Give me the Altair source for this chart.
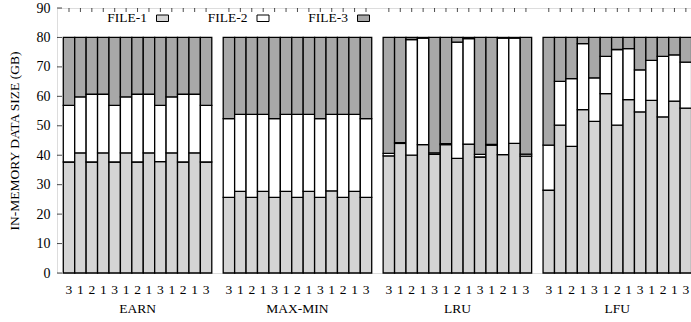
import altair as alt
import pandas as pd

groups = ["EARN", "MAX-MIN", "LRU", "LFU"]
bar_labels = ["3", "1", "2", "1", "3", "1", "2", "1", "3", "1", "2", "1", "3"]
series = ["FILE-1", "FILE-2", "FILE-3"]
series_colors = ["#d4d4d4", "#ffffff", "#a8a8a8"]
y_tick_values = [0, 10, 20, 30, 40, 50, 60, 70, 80, 90]

# amounts (GB) per bar
file1 = {
    "EARN":    [37.7, 40.8, 37.7, 40.8, 37.7, 40.8, 37.7, 40.8, 37.8, 40.8, 37.7, 40.8, 37.7],
    "MAX-MIN": [25.7, 27.7, 25.7, 27.7, 25.7, 27.7, 25.7, 27.7, 25.7, 27.9, 25.7, 27.7, 25.7],
    "LRU":     [39.8, 44.0, 40.0, 43.6, 40.3, 43.6, 38.9, 43.8, 39.4, 43.4, 40.2, 44.0, 39.7],
    "LFU":     [28.1, 50.2, 43.0, 55.5, 51.5, 60.9, 50.2, 58.9, 54.7, 58.6, 53.0, 58.4, 56.0],
}
file2 = {
    "EARN":    [19.2, 19.0, 23.0, 19.9, 19.2, 19.0, 23.0, 19.9, 19.1, 19.0, 23.0, 19.9, 19.2],
    "MAX-MIN": [26.7, 26.2, 28.2, 26.2, 26.7, 26.2, 28.2, 26.2, 26.7, 26.0, 28.2, 26.2, 26.7],
    "LRU":     [0.8, 0.3, 39.3, 36.2, 0.5, 0.3, 39.5, 35.8, 0.9, 0.3, 39.6, 35.8, 0.7],
    "LFU":     [15.3, 14.9, 23.0, 22.4, 14.8, 12.7, 25.7, 17.3, 14.3, 13.6, 20.6, 15.7, 15.6],
}
file3 = {
    "EARN":    [23.1, 20.2, 19.3, 19.3, 23.1, 20.2, 19.3, 19.3, 23.1, 20.2, 19.3, 19.3, 23.1],
    "MAX-MIN": [27.6, 26.1, 26.1, 26.1, 27.6, 26.1, 26.1, 26.1, 27.6, 26.1, 26.1, 26.1, 27.6],
    "LRU":     [39.4, 35.7, 0.7, 0.2, 39.2, 36.1, 1.6, 0.4, 39.7, 36.3, 0.2, 0.2, 39.6],
    "LFU":     [36.6, 14.9, 14.0, 2.1, 13.7, 6.4, 4.1, 3.8, 11.0, 7.8, 6.4, 5.9, 8.4],
}

SLOTS = 14  # 13 bars + one empty slot between groups

rows, lab_rows, grp_rows = [], [], []
for g, name in enumerate(groups):
    for i in range(len(bar_labels)):
        pos = g * SLOTS + i
        base = 0.0
        for s, src in zip(series, [file1, file2, file3]):
            v = src[name][i]
            rows.append({"pos": pos, "lo": pos - 0.5, "hi": pos + 0.5,
                         "series": s, "y0": base, "y1": base + v})
            base += v
        lab_rows.append({"pos": pos, "label": bar_labels[i]})
    grp_rows.append({"pos": g * SLOTS + (len(bar_labels) - 1) / 2, "group": name})

df = pd.DataFrame(rows)
labels_df = pd.DataFrame(lab_rows)
groups_df = pd.DataFrame(grp_rows)
yticks_df = pd.DataFrame({"v": y_tick_values})
legend_df = pd.DataFrame({"series": series, "k": [0, 1, 2]})

FONT = "Liberation Serif, Times New Roman, serif"
xscale = alt.Scale(domain=[-1.05, 54.45], nice=False, zero=False)
yscale = alt.Scale(domain=[0, 90], nice=False)
color = alt.Color("series:N", scale=alt.Scale(domain=series, range=series_colors), legend=None)

yaxis = alt.Axis(values=y_tick_values, ticks=False, grid=False,
                 domain=False, labelOverlap=False, labelBound=False,
                 labelPadding=7, labelFont=FONT,
                 labelFontSize=14, labelColor="black",
                 title="IN-MEMORY DATA SIZE (GB)", titleFont=FONT,
                 titleFontSize=13.5, titleFontWeight="normal", titleColor="black",
                 titleAngle=270, titleBaseline="middle", titleAlign="center",
                 titleX=-43, titleY=132.5)

bars = alt.Chart(df).mark_bar(stroke="black", strokeWidth=1.3, opacity=1).encode(
    x=alt.X("lo:Q", scale=xscale, axis=None),
    x2="hi:Q",
    y=alt.Y("y0:Q", scale=yscale, axis=yaxis),
    y2="y1:Q",
    color=color,
)

ytick_marks = alt.Chart(yticks_df).mark_tick(color="black", thickness=1, size=5,
                                             orient="horizontal").encode(
    y=alt.Y("v:Q", scale=yscale, axis=yaxis),
    x=alt.value(2.5),
)

top_ticks = alt.Chart(labels_df).mark_tick(color="black", thickness=1, size=4,
                                          orient="vertical").encode(
    x=alt.X("pos:Q", scale=xscale, axis=None),
    y=alt.value(2),
)

bar_text = alt.Chart(labels_df).mark_text(font=FONT, fontSize=13.5, color="black",
                                          baseline="middle").encode(
    x=alt.X("pos:Q", scale=xscale, axis=None),
    y=alt.value(281.5),
    text="label:N",
)

group_text = alt.Chart(groups_df).mark_text(font=FONT, fontSize=13.5, color="black",
                                            baseline="middle").encode(
    x=alt.X("pos:Q", scale=xscale, axis=None),
    y=alt.value(301),
    text="group:N",
)

legend_text = alt.Chart(legend_df).transform_calculate(
    px="90 + 100.5 * datum.k"
).mark_text(font=FONT, fontSize=13.5, color="black", align="right", baseline="middle").encode(
    x=alt.X("px:Q", scale=None, axis=None),
    y=alt.value(10),
    text="series:N",
)

legend_box = alt.Chart(legend_df).transform_calculate(
    bx="99.5 + 100.5 * datum.k", bx2="111.5 + 100.5 * datum.k"
).mark_rect(stroke="black", strokeWidth=1).encode(
    x=alt.X("bx:Q", scale=None, axis=None),
    x2="bx2:Q",
    y=alt.value(7),
    y2=alt.value(13.5),
    color=color,
)

chart = alt.layer(bars, ytick_marks, top_ticks, bar_text, group_text, legend_text, legend_box).properties(
    width=634, height=265,
    padding={"left": 57, "top": 8, "right": 0, "bottom": 49},
    autosize="none",
).configure_view(stroke="black", strokeWidth=1.2).configure(background="white")

chart.save("out.html", embed_options={"renderer": "svg", "actions": False})
